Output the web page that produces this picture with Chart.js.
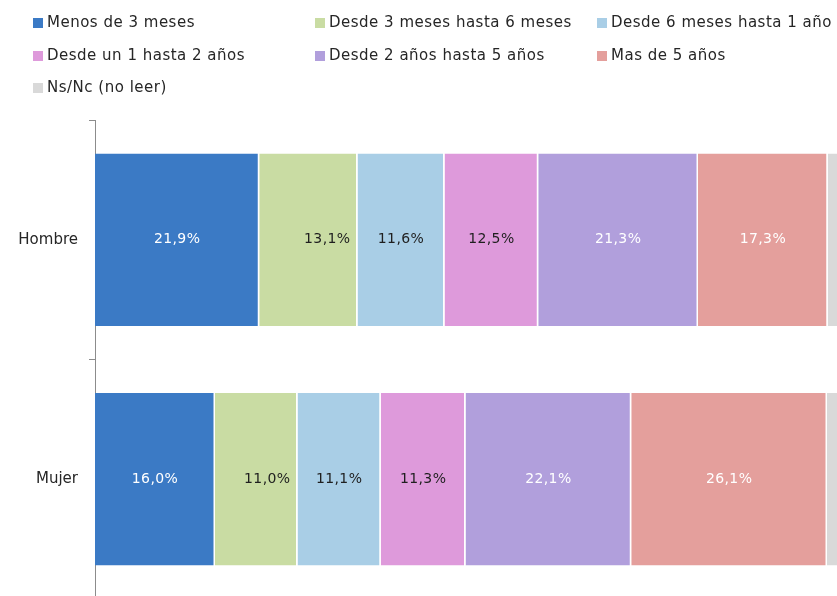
<!DOCTYPE html>
<html>
<head>
<meta charset="utf-8">
<script src="https://cdn.jsdelivr.net/npm/chart.js@4"></script>
<style>
  html, body { margin: 0; padding: 0; background: #ffffff; overflow: hidden; }
  canvas { position: absolute; left: 0; top: 0; display: block; }
</style>
</head>
<body>
<canvas id="c" width="845" height="599" style="width:845px;height:599px;"></canvas>
<script>
const categories = ["Hombre", "Mujer"];
const seriesNames = [
  "Menos de 3 meses",
  "Desde 3 meses hasta 6 meses",
  "Desde 6 meses hasta 1 año",
  "Desde un 1 hasta 2 años",
  "Desde 2 años hasta 5 años",
  "Mas de 5 años",
  "Ns/Nc (no leer)"
];
const menos3Meses   = [21.9, 16.0];
const de3a6Meses    = [13.1, 11.0];
const de6mesesA1    = [11.6, 11.1];
const de1a2Anos     = [12.5, 11.3];
const de2a5Anos     = [21.3, 22.1];
const masDe5Anos    = [17.3, 26.1];
const nsNc          = [2.3, 2.4];

const seriesValues = [menos3Meses, de3a6Meses, de6mesesA1, de1a2Anos, de2a5Anos, masDe5Anos, nsNc];
const colors = ["#3B7AC5", "#C9DCA3", "#A9CEE6", "#DE9ADB", "#B19FDC", "#E49F9C", "#D9D9D9"];
const labelColors = ["#ffffff", "#1f1f1f", "#1f1f1f", "#1f1f1f", "#ffffff", "#ffffff", null];
const labelAlign = ["center", "end", "center", "center", "center", "center", null];

const FONT = "'DejaVu Sans', sans-serif";

const valueLabels = {
  id: 'valueLabels',
  afterDatasetsDraw(chart) {
    const ctx = chart.ctx;
    ctx.save();
    ctx.font = "14px " + FONT;
    ctx.letterSpacing = "0.4px";
    ctx.textBaseline = 'middle';
    chart.data.datasets.forEach((ds, i) => {
      if (!labelColors[i]) return;
      const meta = chart.getDatasetMeta(i);
      meta.data.forEach((el, j) => {
        const v = ds.data[j];
        const txt = v.toFixed(1).replace('.', ',') + '%';
        ctx.fillStyle = labelColors[i];
        if (labelAlign[i] === 'end') {
          ctx.textAlign = 'right';
          ctx.fillText(txt, el.x - 7, el.y);
        } else {
          ctx.textAlign = 'center';
          ctx.fillText(txt, (el.x + el.base) / 2, el.y);
        }
      });
    });
    ctx.restore();
  }
};

const gridLegend = {
  id: 'gridLegend',
  afterDraw(chart) {
    const ctx = chart.ctx;
    const colX = [33, 315, 597];
    const rowY = [23, 56, 88];
    ctx.save();
    ctx.font = "15px " + FONT;
    ctx.letterSpacing = "0.5px";
    ctx.textBaseline = 'middle';
    ctx.textAlign = 'left';
    chart.data.datasets.forEach((ds, i) => {
      const x = colX[i % 3];
      const y = rowY[Math.floor(i / 3)];
      ctx.fillStyle = ds.backgroundColor;
      ctx.fillRect(x, y - 5, 10, 10);
      ctx.fillStyle = "#262626";
      ctx.fillText(ds.label, x + 14, y);
    });
    ctx.restore();
  }
};

new Chart(document.getElementById('c'), {
  type: 'bar',
  data: {
    labels: categories,
    datasets: seriesNames.map((name, i) => ({
      label: name,
      data: seriesValues[i],
      backgroundColor: colors[i],
      borderColor: "#ffffff",
      borderWidth: { left: 0, right: 1.5, top: 0, bottom: 0 },
      borderSkipped: false,
      barPercentage: 0.72,
      categoryPercentage: 1.0
    }))
  },
  options: {
    indexAxis: 'y',
    responsive: false,
    animation: false,
    devicePixelRatio: 1,
    layout: { padding: { top: 120, left: 0, right: 0, bottom: 0 } },
    plugins: {
      legend: { display: false },
      tooltip: { enabled: false }
    },
    scales: {
      x: {
        stacked: true,
        display: false,
        min: 0,
        max: 100
      },
      y: {
        stacked: true,
        afterFit(scale) {
          scale.width = 95;
          scale.paddingTop = 0;
          scale.paddingBottom = 0;
        },
        grid: {
          drawOnChartArea: false,
          drawTicks: true,
          tickLength: 6,
          tickColor: "#8c8c8c",
          offset: true
        },
        border: { display: true, color: "#8c8c8c", width: 1 },
        ticks: {
          color: "#262626",
          font: { family: FONT, size: 15 },
          padding: 11
        }
      }
    }
  },
  plugins: [valueLabels, gridLegend]
});
</script>
</body>
</html>
